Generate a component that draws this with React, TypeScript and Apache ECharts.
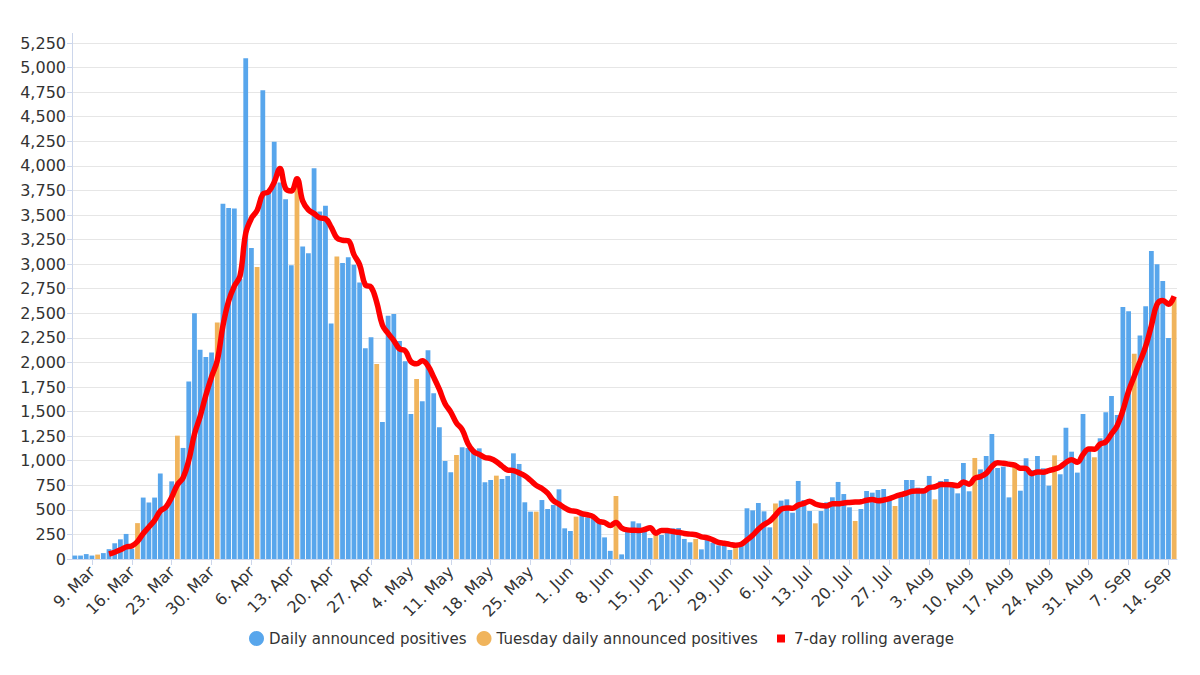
import React, { useEffect, useRef } from "react";
import * as echarts from "echarts";

// Daily announced positives, starting Fri 6 Mar 2020 (one value per day)
const START_DATE = [2020, 2, 6];
const MONTHS = ["Jan", "Feb", "Mar", "Apr", "May", "Jun", "Jul", "Aug", "Sep", "Oct", "Nov", "Dec"];

const dailyPositives = [
  35, 35, 50, 35, 45, 60, 100, 160, 200, 255, 105, 365, 625, 575, 625, 870, 545, 790, 1255, 1130,
  1805, 2500, 2130, 2055, 2100, 2405, 3615, 3570, 3565, 2850, 5095, 3165, 2970, 4770, 3740, 4245, 3830, 3660, 2990, 3850,
  3180, 3110, 3975, 3535, 3595, 2395, 3078, 3012, 3070, 2995, 2812, 2145, 2256, 1985, 1395, 2475, 2493, 2218, 2011, 1476,
  1832, 1604, 2123, 1686, 1340, 997, 882, 1058, 1136, 1130, 1116, 1126, 780, 804, 848, 814, 845, 1075, 967, 577,
  482, 482, 600, 509, 550, 709, 312, 285, 431, 441, 424, 414, 380, 220, 83, 641, 47, 290, 383, 363,
  290, 214, 251, 244, 278, 312, 315, 204, 170, 204, 98, 210, 166, 139, 136, 92, 149, 160, 516, 495,
  570, 485, 322, 565, 594, 607, 471, 794, 600, 488, 363, 488, 577, 628, 784, 661, 526, 387, 509, 692,
  675, 702, 712, 620, 539, 641, 804, 804, 726, 720, 845, 607, 794, 814, 777, 668, 977, 689, 1028, 912,
  1048, 1272, 926, 940, 627, 960, 695, 1024, 905, 1048, 923, 746, 1055, 862, 1336, 1092, 879, 1476, 1140, 1035,
  1228, 1492, 1659, 1465, 2564, 2520, 2089, 2273, 2571, 3134, 2999, 2829, 2249, 2653,
];

// 7-day rolling average (first value on day 7)
const rollingAverage = [
  null, null, null, null, null, null,
  51, 69, 93, 122, 132, 178, 259, 326, 393, 489, 530, 628, 755, 827,
  1003, 1271, 1451, 1666, 1854, 2018, 2373, 2625, 2777, 2880, 3314, 3466, 3547, 3712, 3736, 3834, 3974, 3769, 3744, 3869,
  3642, 3552, 3514, 3471, 3462, 3377, 3267, 3243, 3237, 3097, 2994, 2787, 2767, 2611, 2380, 2295, 2223, 2138, 2119, 2008,
  1986, 2016, 1965, 1850, 1725, 1580, 1495, 1384, 1317, 1176, 1094, 1064, 1033, 1021, 991, 945, 905, 899, 876, 847,
  801, 749, 718, 670, 595, 558, 521, 492, 485, 462, 450, 431, 384, 371, 342, 372, 316, 296, 292, 290,
  300, 318, 263, 291, 289, 279, 272, 260, 253, 247, 226, 216, 195, 170, 160, 149, 141, 150, 194, 241,
  303, 352, 385, 445, 507, 520, 516, 548, 565, 588, 560, 544, 540, 563, 561, 570, 575, 579, 582, 598,
  605, 593, 600, 614, 636, 654, 670, 689, 692, 693, 726, 735, 757, 759, 755, 746, 783, 761, 821, 838,
  871, 942, 979, 974, 965, 955, 924, 921, 868, 886, 883, 900, 914, 938, 982, 1009, 985, 1064, 1120, 1117,
  1169, 1192, 1273, 1356, 1512, 1709, 1860, 2009, 2163, 2374, 2593, 2631, 2592, 2673,
];

const SERIES_NAMES = ["Daily announced positives", "Tuesday daily announced positives", "7-day rolling average"];

const BLUE = "#58a6ec";
const ORANGE = "#f0b45c";
const RED = "#ff0000";
const FONT = "DejaVu Sans";

export default function App() {
  const ref = useRef<HTMLDivElement>(null);

  useEffect(() => {
    if (!ref.current) return;
    const chart = echarts.init(ref.current, undefined, { renderer: "svg" });

    const categories: string[] = [];
    const isTuesday: boolean[] = [];
    const isMonday: boolean[] = [];
    for (let i = 0; i < dailyPositives.length; i++) {
      const d = new Date(START_DATE[0], START_DATE[1], START_DATE[2] + i);
      categories.push(`${d.getDate()}. ${MONTHS[d.getMonth()]}`);
      isTuesday.push(d.getDay() === 2);
      isMonday.push(d.getDay() === 1);
    }
    const blueData = dailyPositives.map((v, i) => (isTuesday[i] ? "-" : v));
    const orangeData = dailyPositives.map((v, i) => (isTuesday[i] ? v : "-"));
    const onMonday = (idx: number) => isMonday[idx];

    chart.setOption({
      animation: false,
      backgroundColor: "#ffffff",
      textStyle: { fontFamily: FONT },
      grid: { left: 72, right: 23, top: 43, bottom: 116, containLabel: false },
      legend: [
        {
          data: [
            { name: SERIES_NAMES[0], icon: "circle" },
            { name: SERIES_NAMES[1], icon: "circle" },
          ],
          left: 244,
          top: 626,
          itemWidth: 15,
          itemHeight: 15,
          itemGap: 10,
          textStyle: { fontFamily: FONT, fontSize: 15, color: "#333333" },
        },
        {
          data: [{ name: SERIES_NAMES[2], icon: "rect" }],
          left: 772,
          top: 626,
          itemWidth: 8,
          itemHeight: 8,
          textStyle: { fontFamily: FONT, fontSize: 15, color: "#333333", padding: [0, 0, 0, 4] },
        },
      ],
      xAxis: {
        type: "category",
        data: categories,
        boundaryGap: true,
        axisLine: { show: true, lineStyle: { color: "#ccd6eb", width: 1 } },
        axisTick: { show: true, alignWithLabel: true, interval: onMonday, length: 6, lineStyle: { color: "#ccd6eb" } },
        axisLabel: {
          interval: onMonday,
          rotate: 45,
          fontFamily: FONT,
          fontSize: 16,
          color: "#333333",
          margin: 10,
        },
        splitLine: { show: false },
      },
      yAxis: {
        type: "value",
        min: 0,
        max: 5250,
        interval: 250,
        axisLine: { show: true, lineStyle: { color: "#ccd6eb", width: 1 } },
        axisTick: { show: true, length: 5, lineStyle: { color: "#ccd6eb" } },
        axisLabel: {
          fontFamily: FONT,
          fontSize: 16,
          color: "#333333",
          margin: 6,
          formatter: (v: number) => v.toLocaleString("en-US"),
        },
        splitLine: { show: true, lineStyle: { color: "#e6e6e6", width: 1 } },
      },
      series: [
        {
          name: SERIES_NAMES[0],
          type: "bar",
          data: blueData,
          itemStyle: { color: BLUE },
          barCategoryGap: "16%",
          barGap: "-100%",
          z: 2,
        },
        {
          name: SERIES_NAMES[1],
          type: "bar",
          data: orangeData,
          itemStyle: { color: ORANGE },
          barCategoryGap: "16%",
          barGap: "-100%",
          z: 2,
        },
        {
          name: SERIES_NAMES[2],
          type: "line",
          data: rollingAverage,
          smooth: 0.4,
          showSymbol: false,
          symbol: "none",
          connectNulls: false,
          lineStyle: { color: RED, width: 5.5 },
          itemStyle: { color: RED },
          z: 5,
        },
      ],
      graphic: [
        {
          type: "line",
          shape: { x1: 72.5, y1: 33, x2: 72.5, y2: 43 },
          style: { stroke: "#ccd6eb", lineWidth: 1 },
          silent: true,
        },
      ],
    });

    return () => chart.dispose();
  }, []);

  return <div ref={ref} style={{ position: "fixed", left: 0, top: 0, width: 1200, height: 675 }} />;
}
